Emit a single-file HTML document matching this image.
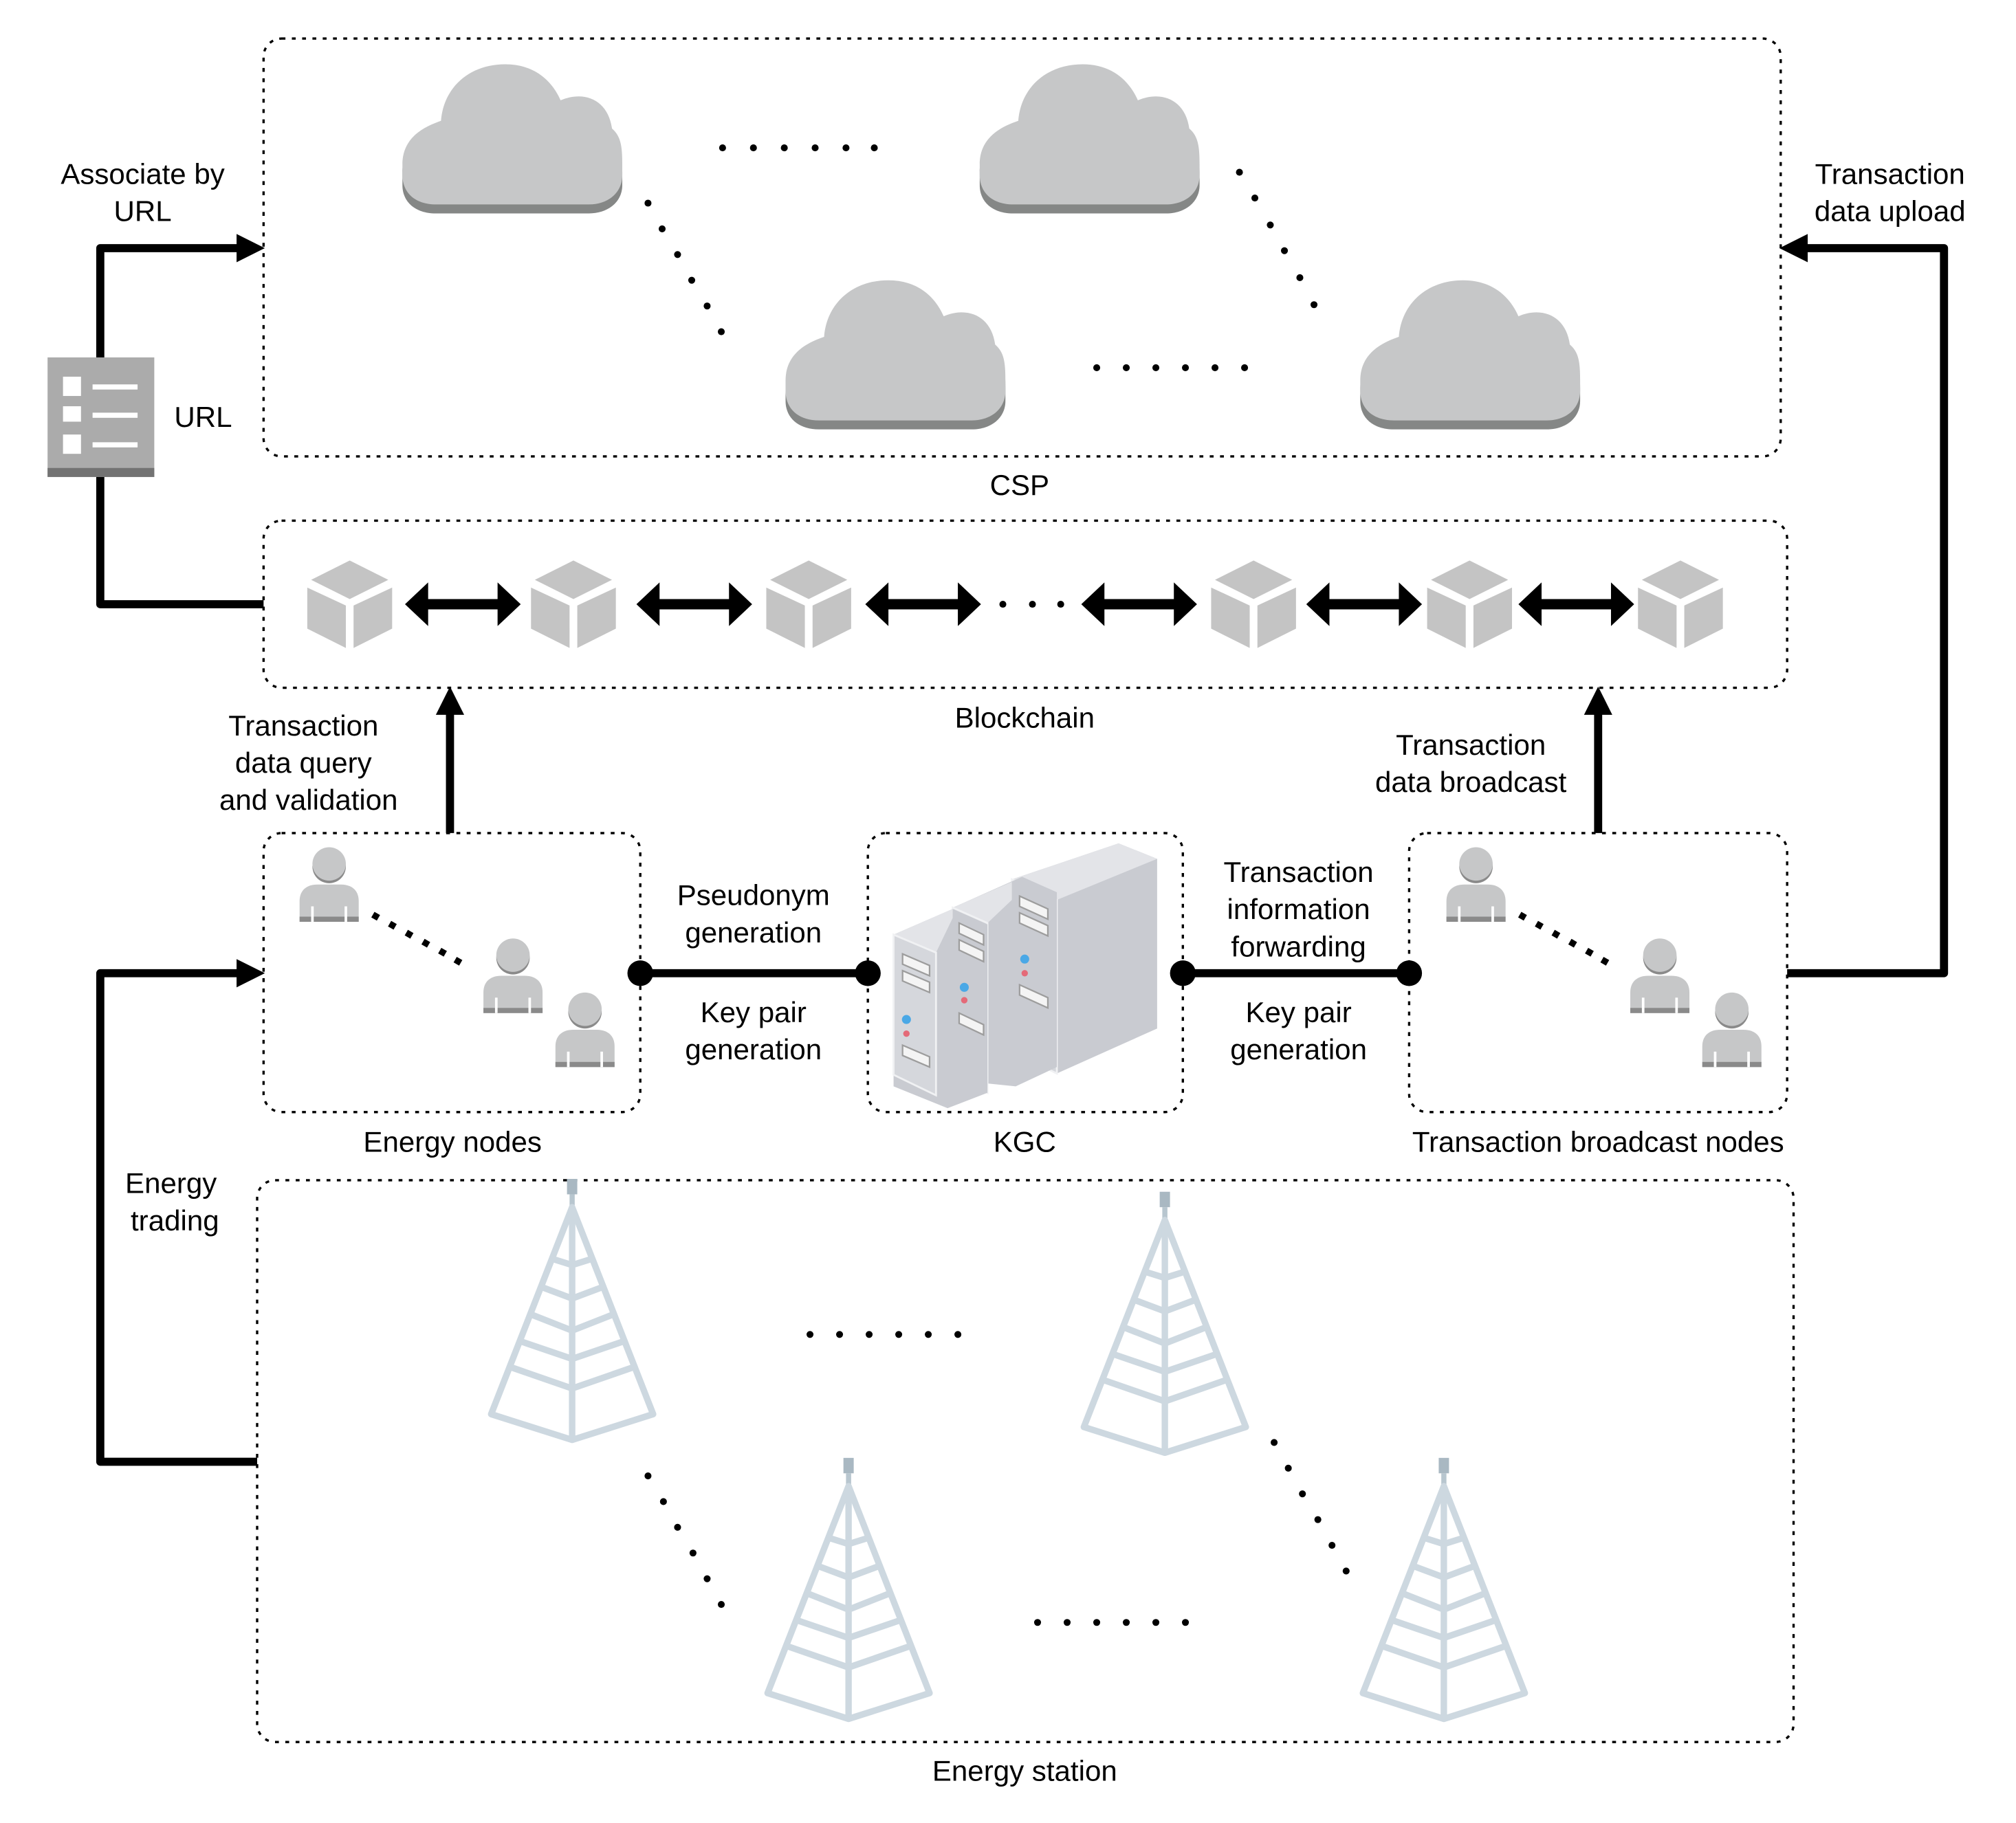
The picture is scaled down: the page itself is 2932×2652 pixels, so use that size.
<!DOCTYPE html>
<html><head><meta charset="utf-8">
<style>
html,body{margin:0;padding:0;background:#fff;}
svg{display:block;}
text{font-family:"Liberation Sans",Arial,sans-serif;font-size:22.5px;fill:#000;text-anchor:middle;}
</style></head>
<body>
<svg width="2932" height="2652" viewBox="0 0 1568 1418" preserveAspectRatio="none" xmlns="http://www.w3.org/2000/svg">
<defs>
  <g id="cloud">
    <path d="M0,78 C0,60 12,50 30,44 C32,18 52,0 80,0 C102,0 116,12 123,28 C142,20 160,28 163,50 C170,56 171,64 171,78 L171,88 C171,101 160,110 145,110 L26,110 C10,110 0,101 0,88 Z" fill="#858786"/>
    <path d="M0,72 C0,54 12,44 30,38 C32,12 52,-6 80,-6 C102,-6 116,6 123,22 C142,14 160,22 163,44 C170,50 171,58 171,72 L171,80 C171,94 160,103 145,103 L26,103 C10,103 0,94 0,80 Z" fill="#c6c7c8"/>
  </g>
  <g id="cube" fill="#c4c4c4">
    <polygon points="-30,-19 0,-34 30,-19 0,-4"/>
    <polygon points="-33,-13 -3,1 -3,34 -33,19"/>
    <polygon points="3,1 33,-13 33,19 3,34"/>
  </g>
  <g id="dbl">
    <polygon points="0,0 18,-17 18,-4 72,-4 72,-17 90,0 72,17 72,4 18,4 18,17"/>
  </g>
  <g id="person">
    <circle cx="23" cy="15" r="13" fill="#8a8a8a"/>
    <circle cx="23" cy="13" r="13" fill="#c6c7c8"/>
    <path d="M0,42 C0,33 6,29 14,29 L32,29 C40,29 46,33 46,42 L46,58 L0,58 Z" fill="#c6c7c8"/>
    <rect x="0" y="54" width="46" height="4" fill="#8a8a8a"/>
    <rect x="9" y="46" width="2" height="12" fill="#fff"/>
    <rect x="35" y="46" width="2" height="12" fill="#fff"/>
  </g>
  <g id="tower">
    <rect x="-4" y="0" width="8" height="12" fill="#a9b8c2"/>
    <rect x="-2" y="12" width="4" height="9" fill="#b8c6cf"/>
    <g stroke="#cdd8e0" stroke-width="5" fill="none" stroke-linejoin="round">
      <path d="M0,22 L-63,183 L0,203 L63,183 Z"/>
      <path d="M0,22 L0,203"/>
      <path d="M-16,62 L0,67 L16,62"/>
      <path d="M-24,84 L0,93 L24,84"/>
      <path d="M-33,105 L0,118 L33,105"/>
      <path d="M-41,126 L0,140 L41,126"/>
      <path d="M-49,146 L0,163 L49,146"/>
    </g>
  </g>
</defs>

<!-- Dotted boxes -->
<g fill="none" stroke="#000" stroke-width="1.8" stroke-dasharray="3 5">
  <rect x="205" y="30" width="1180" height="325" rx="14"/>
  <rect x="205" y="405" width="1185" height="130" rx="14"/>
  <rect x="205" y="648" width="293" height="217" rx="14"/>
  <rect x="675" y="648" width="245" height="217" rx="14"/>
  <rect x="1096" y="648" width="294" height="217" rx="14"/>
  <rect x="200" y="918" width="1195" height="437" rx="14"/>
</g>

<!-- Clouds -->
<use href="#cloud" x="313" y="56"/>
<use href="#cloud" x="762" y="56"/>
<use href="#cloud" x="611" y="224"/>
<use href="#cloud" x="1058" y="224"/>

<!-- Dots -->
<g fill="#000">
  <circle cx="562" cy="115" r="2.7"/><circle cx="586" cy="115" r="2.7"/><circle cx="610" cy="115" r="2.7"/><circle cx="634" cy="115" r="2.7"/><circle cx="658" cy="115" r="2.7"/><circle cx="680" cy="115" r="2.7"/>
  <circle cx="853" cy="286" r="2.7"/><circle cx="876" cy="286" r="2.7"/><circle cx="899" cy="286" r="2.7"/><circle cx="922" cy="286" r="2.7"/><circle cx="945" cy="286" r="2.7"/><circle cx="968" cy="286" r="2.7"/>
  <circle cx="504" cy="158" r="2.7"/><circle cx="515" cy="178" r="2.7"/><circle cx="527" cy="198" r="2.7"/><circle cx="538" cy="218" r="2.7"/><circle cx="550" cy="238" r="2.7"/><circle cx="561" cy="258" r="2.7"/>
  <circle cx="964" cy="134" r="2.7"/><circle cx="976" cy="154" r="2.7"/><circle cx="988" cy="175" r="2.7"/><circle cx="999" cy="195" r="2.7"/><circle cx="1011" cy="216" r="2.7"/><circle cx="1022" cy="237" r="2.7"/>
  <circle cx="780" cy="470" r="2.7"/><circle cx="803" cy="470" r="2.7"/><circle cx="825" cy="470" r="2.7"/>
  <circle cx="630" cy="1038" r="2.7"/><circle cx="653" cy="1038" r="2.7"/><circle cx="676" cy="1038" r="2.7"/><circle cx="699" cy="1038" r="2.7"/><circle cx="722" cy="1038" r="2.7"/><circle cx="745" cy="1038" r="2.7"/>
  <circle cx="807" cy="1262" r="2.7"/><circle cx="830" cy="1262" r="2.7"/><circle cx="853" cy="1262" r="2.7"/><circle cx="876" cy="1262" r="2.7"/><circle cx="899" cy="1262" r="2.7"/><circle cx="922" cy="1262" r="2.7"/>
  <circle cx="504" cy="1148" r="2.7"/><circle cx="516" cy="1168" r="2.7"/><circle cx="527" cy="1188" r="2.7"/><circle cx="539" cy="1208" r="2.7"/><circle cx="550" cy="1228" r="2.7"/><circle cx="561" cy="1248" r="2.7"/>
  <circle cx="991" cy="1122" r="2.7"/><circle cx="1002" cy="1142" r="2.7"/><circle cx="1013" cy="1162" r="2.7"/><circle cx="1025" cy="1182" r="2.7"/><circle cx="1036" cy="1202" r="2.7"/><circle cx="1047" cy="1222" r="2.7"/>
</g>
<g fill="#000">
  <rect x="290" y="710" width="5" height="5" transform="rotate(30 292 712)"/>
  <rect x="303" y="717" width="5" height="5" transform="rotate(30 305 719)"/>
  <rect x="316" y="724" width="5" height="5" transform="rotate(30 318 726)"/>
  <rect x="329" y="731" width="5" height="5" transform="rotate(30 331 733)"/>
  <rect x="342" y="738" width="5" height="5" transform="rotate(30 344 740)"/>
  <rect x="354" y="745" width="5" height="5" transform="rotate(30 356 747)"/>
  <rect x="1182" y="710" width="5" height="5" transform="rotate(30 1184 712)"/>
  <rect x="1195" y="717" width="5" height="5" transform="rotate(30 1197 719)"/>
  <rect x="1208" y="724" width="5" height="5" transform="rotate(30 1210 726)"/>
  <rect x="1221" y="731" width="5" height="5" transform="rotate(30 1223 733)"/>
  <rect x="1234" y="738" width="5" height="5" transform="rotate(30 1236 740)"/>
  <rect x="1246" y="745" width="5" height="5" transform="rotate(30 1248 747)"/>
</g>

<!-- Blockchain cubes & arrows -->
<use href="#cube" x="272" y="470"/>
<use href="#cube" x="446" y="470"/>
<use href="#cube" x="629" y="470"/>
<use href="#cube" x="975" y="470"/>
<use href="#cube" x="1143" y="470"/>
<use href="#cube" x="1307" y="470"/>
<use href="#dbl" x="315" y="470"/>
<use href="#dbl" x="495" y="470"/>
<use href="#dbl" x="673" y="470"/>
<use href="#dbl" x="841" y="470"/>
<use href="#dbl" x="1016" y="470"/>
<use href="#dbl" x="1181" y="470"/>

<!-- Connector lines -->
<g fill="none" stroke="#000" stroke-width="6.3" stroke-linejoin="round">
  <polyline points="205,470 78,470 78,193 188,193"/>
  <polyline points="1390,757 1512,757 1512,193 1402,193"/>
  <polyline points="200,1137 78,1137 78,757 188,757"/>
  <line x1="350" y1="648" x2="350" y2="552"/>
  <line x1="1243" y1="648" x2="1243" y2="552"/>
  <line x1="498" y1="757" x2="675" y2="757"/>
  <line x1="920" y1="757" x2="1096" y2="757"/>
</g>
<g fill="#000">
  <polygon points="206,193 184,182 184,204"/>
  <polygon points="1384,193 1406,182 1406,204"/>
  <polygon points="206,757 184,746 184,768"/>
  <polygon points="350,534 339,556 361,556"/>
  <polygon points="1243,534 1232,556 1254,556"/>
  <circle cx="498" cy="757" r="10"/>
  <circle cx="675" cy="757" r="10"/>
  <circle cx="920" cy="757" r="10"/>
  <circle cx="1096" cy="757" r="10"/>
</g>

<!-- URL icon -->
<rect x="37" y="278" width="83" height="93" fill="#ababab"/>
<rect x="37" y="364" width="83" height="7" fill="#737373"/>
<g fill="#fff">
  <rect x="49" y="293" width="14" height="15"/><rect x="72" y="299" width="35" height="4"/>
  <rect x="49" y="316" width="14" height="12"/><rect x="72" y="321" width="35" height="4"/>
  <rect x="49" y="338" width="14" height="15"/><rect x="72" y="344" width="35" height="4"/>
</g>

<!-- Persons -->
<use href="#person" x="233" y="659"/>
<use href="#person" x="376" y="730"/>
<use href="#person" x="432" y="772"/>
<use href="#person" x="1125" y="659"/>
<use href="#person" x="1268" y="730"/>
<use href="#person" x="1324" y="772"/>

<!-- Server (KGC) -->
<g>
  <!-- back server -->
  <polygon points="787,684 870,656 900,668 900,800 822,835 787,818" fill="#c9cbd1"/>
  <polygon points="787,684 870,656 900,668 822,700" fill="#e3e4e8"/>
  <polygon points="787,684 822,700 822,835 787,818" fill="#d5d7dc" stroke="#f0f1f3" stroke-width="1.5"/>
  <!-- middle -->
  <polygon points="741,706 795,682 822,694 822,830 790,845 741,840" fill="#c9cbd1"/>
  <polygon points="741,706 787,686 787,700 768,718" fill="#e3e4e8"/>
  <polygon points="741,706 768,718 768,850 741,836" fill="#d5d7dc" stroke="#f0f1f3" stroke-width="1.5"/>
  <!-- front -->
  <polygon points="695,727 741,707 768,719 768,850 737,862 695,845" fill="#c9cbd1"/>
  <polygon points="695,727 741,707 741,714 728,741" fill="#e3e4e8"/>
  <polygon points="695,727 728,741 728,852 695,836" fill="#d5d7dc" stroke="#f0f1f3" stroke-width="1.5"/>
  <g fill="#f4f4f4" stroke="#9d9d9d" stroke-width="1.2">
    <polygon points="702,742 723,751 723,759 702,750"/>
    <polygon points="702,755 723,764 723,772 702,763"/>
    <polygon points="702,813 723,822 723,830 702,821"/>
    <polygon points="746,718 765,727 765,735 746,726"/>
    <polygon points="746,731 765,740 765,748 746,739"/>
    <polygon points="746,788 765,797 765,805 746,796"/>
    <polygon points="793,697 815,707 815,715 793,705"/>
    <polygon points="793,710 815,720 815,728 793,718"/>
    <polygon points="793,766 815,776 815,784 793,774"/>
  </g>
  <g>
    <circle cx="705" cy="793" r="3.5" fill="#4aa8e6"/><circle cx="705" cy="804" r="2.5" fill="#e46a78"/>
    <circle cx="750" cy="768" r="3.5" fill="#4aa8e6"/><circle cx="750" cy="778" r="2.5" fill="#e46a78"/>
    <circle cx="797" cy="746" r="3.5" fill="#4aa8e6"/><circle cx="797" cy="757" r="2.5" fill="#e46a78"/>
  </g>
</g>

<!-- Towers -->
<use href="#tower" x="445" y="917"/>
<use href="#tower" x="906" y="927"/>
<use href="#tower" x="660" y="1134"/>
<use href="#tower" x="1123" y="1134"/>

<!-- Labels -->
<text x="111" y="143">Associate by</text>
<text x="111" y="172">URL</text>
<text x="158" y="332">URL</text>
<text x="1470" y="143">Transaction</text>
<text x="1470" y="172">data upload</text>
<text x="793" y="385">CSP</text>
<text x="797" y="566">Blockchain</text>
<text x="236" y="572">Transaction</text>
<text x="236" y="601">data query</text>
<text x="240" y="630">and validation</text>
<text x="1144" y="587">Transaction</text>
<text x="1144" y="616">data broadcast</text>
<text x="586" y="704">Pseudonym</text>
<text x="586" y="733">generation</text>
<text x="586" y="795">Key pair</text>
<text x="586" y="824">generation</text>
<text x="1010" y="686">Transaction</text>
<text x="1010" y="715">information</text>
<text x="1010" y="744">forwarding</text>
<text x="1010" y="795">Key pair</text>
<text x="1010" y="824">generation</text>
<text x="352" y="896">Energy nodes</text>
<text x="797" y="896">KGC</text>
<text x="1243" y="896">Transaction broadcast nodes</text>
<text x="133" y="928">Energy</text>
<text x="136" y="957">trading</text>
<text x="797" y="1385">Energy station</text>
</svg>
</body></html>
